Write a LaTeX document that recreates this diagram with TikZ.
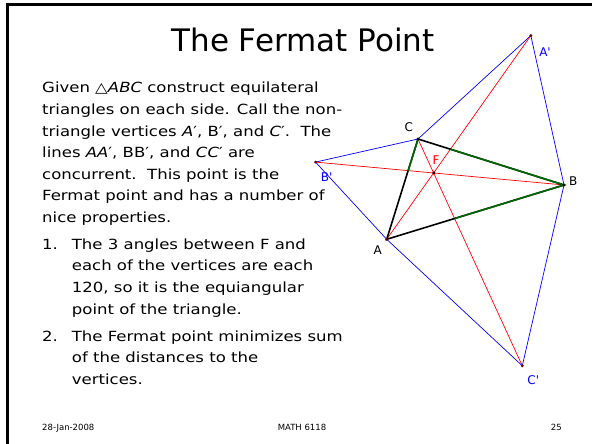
\documentclass[tikz,border=0pt]{standalone}
\usepackage{fontspec}
\setmainfont{DejaVu Sans}
\newfontfamily\slidefont[FakeStretch=1.18]{DejaVu Sans}
\usepackage{tikz}
\usetikzlibrary{calc}

\begin{document}
\begin{tikzpicture}[
  x=1pt, y=-1pt,
  equiline/.style={blue, line width=0.7pt},
  cevian/.style={red, line width=0.7pt},
  triside/.style={black, line width=1.6pt, line cap=round},
  greenpart/.style={green!40!black, line width=1.6pt},
  lbl/.style={font=\fontsize{12}{12}\selectfont, inner sep=0pt},
  bodytext/.style={font=\slidefont\fontsize{14}{21.6}\selectfont, anchor=north west, inner sep=0pt},
  foot/.style={font=\fontsize{8.5}{8.5}\selectfont, inner sep=0pt},
]
  \useasboundingbox (0,0) rectangle (592,444);
  % slide frame
  \draw[line width=2.5pt] (7.5,444) -- (7.5,4.5) -- (592,4.5);

  % Title
  \node[font=\fontsize{31}{31}\selectfont, anchor=base, inner sep=0pt] (title) at (303,51.7) {The Fermat Point};

  % Text (row height of a tabular is 0.7 of the line spacing: 15.1)
  \node[bodytext] (given) at (42,77.6) {\begin{tabular}{@{}l@{}}
    Given △\textit{ABC} construct equilateral\\
    triangles on each side. Call the non-\\
    triangle vertices \textit{A}′, B′, and \textit{C}′.\ \ The\\
    lines \textit{AA}′, BB′, and \textit{CC}′ are\\
    concurrent.\ \ This point is the\\
    Fermat point and has a number of\\
    nice properties.
  \end{tabular}};
  \node[bodytext] (prop1) at (42,233.9) {\begin{tabular}{@{}p{29.7pt}@{}l@{}}
    1. & The 3 angles between F and\\
       & each of the vertices are each\\
       & 120, so it is the equiangular\\
       & point of the triangle.
  \end{tabular}};
  \node[bodytext] (prop2) at (42,325.9) {\begin{tabular}{@{}p{29.7pt}@{}l@{}}
    2. & The Fermat point minimizes sum\\
       & of the distances to the\\
       & vertices.
  \end{tabular}};

  % Points
  \coordinate (A) at (386.7,239.3);
  \coordinate (B) at (564,185);
  \coordinate (C) at (418,139);
  \coordinate (Ap) at (530.8,35.6);
  \coordinate (Bp) at (315.5,162.1);
  \coordinate (Cp) at (522.3,365.8);
  \coordinate (F) at (intersection of A--Ap and B--Bp);

  % equilateral triangles
  \draw[equiline] (C) -- (Ap) -- (B);
  \draw[equiline] (B) -- (Cp) -- (A);
  \draw[equiline] (A) -- (Bp) -- (C);

  % lines to the far vertices
  \draw[cevian] (A) -- (Ap);
  \draw[cevian] (B) -- (Bp);
  \draw[cevian] (C) -- (Cp);

  % Triangle ABC
  \draw[triside] (A) -- (B) -- (C) -- cycle;
  \draw[greenpart] (intersection of C--A and B--Bp) -- (C);
  \draw[greenpart] (intersection of C--B and A--Ap) -- (B);
  \draw[greenpart] (intersection of A--B and C--Cp) -- (B);

  \foreach \p in {A,Ap,Bp,Cp} \fill[red!40!black] (\p) circle (1.6pt);
  \foreach \p in {B,C,F} \fill[black] (\p) circle (1.6pt);

  % Labels
  \node[lbl] (labA) at (377.7,250) {A};
  \node[lbl] (labB) at (573.3,181) {B};
  \node[lbl] (labC) at (408.7,127.3) {C};
  \node[lbl, red] (labF) at (436,160) {F};
  \node[lbl, blue] (labAp) at (545,51.7) {A\textquotesingle};
  \node[lbl, blue] (labBp) at (326.7,176.7) {B\textquotesingle};
  \node[lbl, blue] (labCp) at (533.3,380) {C\textquotesingle};

  % Footer
  \node[foot, anchor=base west] (date) at (42,430) {28-Jan-2008};
  \node[foot, anchor=base] (course) at (302,430) {MATH 6118};
  \node[foot, anchor=base east] (page) at (562,430) {25};
\end{tikzpicture}
\end{document}
